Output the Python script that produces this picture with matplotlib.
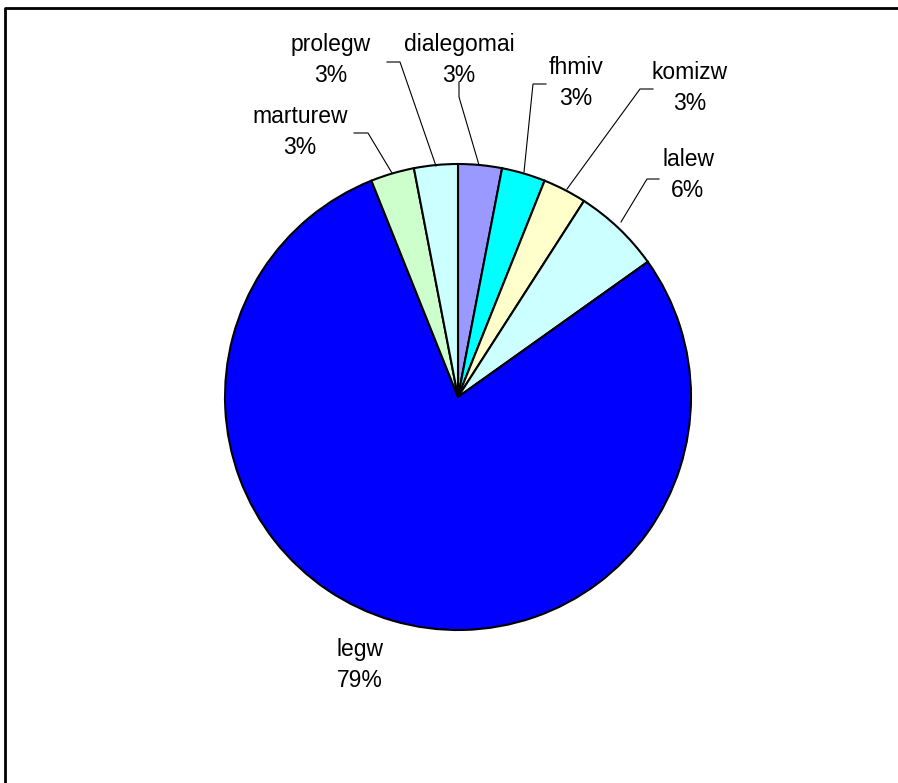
import matplotlib.pyplot as plt
from matplotlib.lines import Line2D

# word counts, clockwise from 12 o'clock
words = ['dialegomai', 'fhmiv', 'komizw', 'lalew', 'legw', 'marturew', 'prolegw']
counts = [1, 1, 1, 2, 26, 1, 1]
colors = ['#9999FF', '#00FFFF', '#FFFFCC', '#CCFFFF', '#0000FF', '#CCFFCC', '#CCFFFF']

W, H = 898, 783
cx, cy, R = 458, 397, 233  # pie centre and radius in pixels

# label text centre and leader line (pixel coords) for each slice
label_pos = [(459, 60), (576, 83), (690, 88), (688, 175), (360, 665), (300, 132), (331, 60)]
leaders = [
    [(459, 82), (459, 97), (479, 165)],
    [(546, 84), (533, 84), (524, 172)],
    [(653, 89), (640, 89), (567, 189)],
    [(659, 179), (647, 179), (621, 222)],
    None,
    [(354, 133), (368, 133), (392, 173)],
    [(387, 62), (400, 62), (436, 166)],
]


def to_data(p):
    return ((p[0] - cx) / R, (cy - p[1]) / R)


plt.rcParams['font.family'] = ['Liberation Sans', 'DejaVu Sans']

fig = plt.figure(figsize=(W / 100, H / 100), dpi=100)
ax = fig.add_axes([0, 0, 1, 1])
ax.pie(counts, colors=colors, startangle=90, counterclock=False, radius=1,
       wedgeprops=dict(edgecolor='black', linewidth=1.5))
ax.set_aspect('auto')
ax.set_xlim(-cx / R, (W - cx) / R)
ax.set_ylim((cy - H) / R, cy / R)
ax.axis('off')

total = sum(counts)
for word, n, pos, line in zip(words, counts, label_pos, leaders):
    x, y = to_data(pos)
    ax.text(x, y, f"{word}\n{round(100 * n / total)}%", ha='center', va='center',
            fontsize=16.5, linespacing=1.4)
    if line:
        xs, ys = zip(*[to_data(p) for p in line])
        ax.plot(xs, ys, color='black', linewidth=0.8)

# chart area border (left and top edges)
fig.add_artist(Line2D([5 / W, 5 / W, 1], [0, 1 - 8 / H, 1 - 8 / H],
                      transform=fig.transFigure, color='black', linewidth=2))

fig.savefig('out.png', dpi=100, facecolor='white')
